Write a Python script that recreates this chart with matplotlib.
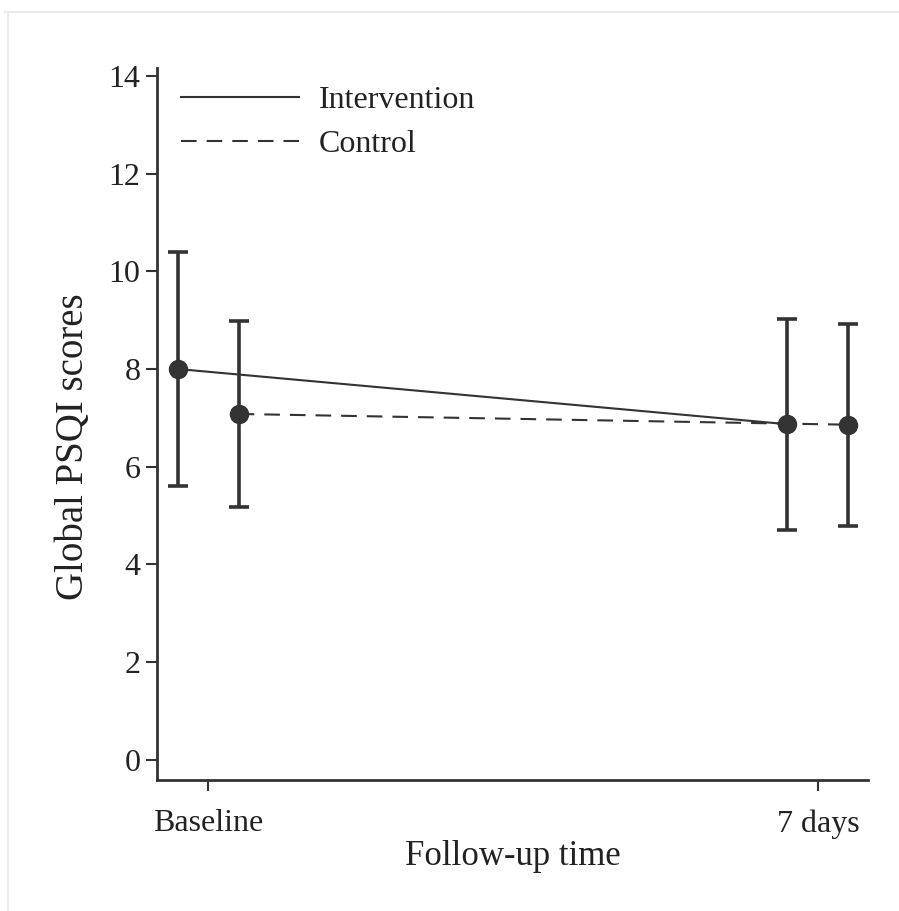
import matplotlib.pyplot as plt
from matplotlib.lines import Line2D

# data
timepoints = ['Baseline', '7 days']
interv_mean = [8.0, 6.87]
interv_lo = [5.61, 4.71]
interv_hi = [10.40, 9.02]
ctrl_mean = [7.08, 6.86]
ctrl_lo = [5.17, 4.79]
ctrl_hi = [8.99, 8.92]
yticks = [0, 2, 4, 6, 8, 10, 12, 14]

plt.rcParams['font.family'] = ['Liberation Serif', 'DejaVu Serif']
col = '#333333'

fig = plt.figure(figsize=(8.99, 9.11), dpi=100)
ax = fig.add_axes([0.1746, 0.1438, 0.7909, 0.7816])

xpos = list(range(len(timepoints)))
off = 0.05
xi = [x - off for x in xpos]
xc = [x + off for x in xpos]

ax.plot(xi, interv_mean, '-', color=col, lw=1.5, label='Intervention', zorder=2)
ax.plot(xc, ctrl_mean, color=col, lw=1.5, linestyle=(0, (7.5, 4.8)), label='Control', zorder=2)

def ebar(x, m, lo, hi):
    yerr = [[a - b for a, b in zip(m, lo)], [b - a for a, b in zip(m, hi)]]
    ax.errorbar(x, m, yerr=yerr, fmt='o', color=col, ms=13, elinewidth=2.6,
                capsize=7.4, capthick=2.6, zorder=3)

ebar(xi, interv_mean, interv_lo, interv_hi)
ebar(xc, ctrl_mean, ctrl_lo, ctrl_hi)

ax.set_xlim(-0.084, 1.082)
ax.set_ylim(-0.41, 14.16)
ax.set_xticks(xpos)
ax.set_xticklabels(timepoints)
ax.set_yticks(yticks)
ax.tick_params(axis='both', labelsize=23, length=8, width=1.5, color=col, labelcolor='#222222')
ax.tick_params(axis='x', pad=13)
ax.tick_params(axis='y', pad=4)
for s in ['top', 'right']:
    ax.spines[s].set_visible(False)
for s in ['left', 'bottom']:
    ax.spines[s].set_linewidth(2)
    ax.spines[s].set_color(col)

ax.set_xlabel('Follow-up time', fontsize=25, color='#222222', labelpad=1)
ax.set_ylabel('Global PSQI scores', fontsize=28, color='#222222')
ax.yaxis.set_label_coords(-0.092, 0.468)

handles = [Line2D([], [], color=col, lw=1.5),
           Line2D([], [], color=col, lw=1.5, linestyle=(0, (7.5, 4.8)))]
ax.legend(handles, ['Intervention', 'Control'], loc='upper left',
          bbox_to_anchor=(0.034, 0.975), frameon=False, fontsize=23,
          handlelength=3.7, handletextpad=0.62, labelspacing=0.46,
          borderpad=0, borderaxespad=0, labelcolor='#222222')

# faint frame edge seen at the top and left of the reference
fig.add_artist(Line2D([5 / 899, 1], [1 - 12 / 911, 1 - 12 / 911], color='#ebebeb', lw=1.5))
fig.add_artist(Line2D([8 / 899, 8 / 899], [0, 1 - 12 / 911], color='#ebebeb', lw=1.5))

fig.savefig('out.png', dpi=100, facecolor='white')
